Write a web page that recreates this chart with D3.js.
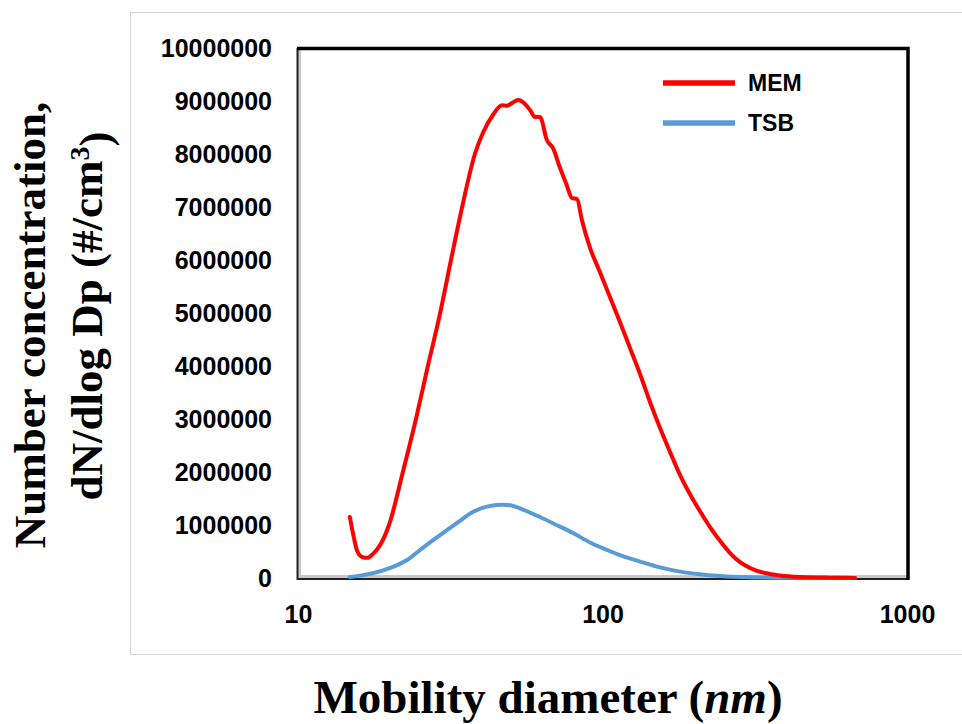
<!DOCTYPE html>
<html>
<head>
<meta charset="utf-8">
<script src="https://cdn.jsdelivr.net/npm/d3@7"></script>
<style>
  body { margin: 0; background: #fff; }
  svg { display: block; }
</style>
</head>
<body>
<script>
var width = 962,
    height = 724;

// mobility diameter (nm) and dN/dlogDp (#/cm3)
var memDiameter = [14.8, 15.2, 15.6, 16.2, 16.9, 17.6, 18.6, 19.9, 22.1, 24.4, 26.7, 29.3, 31.8, 34.6, 38.1, 40.5, 43.7, 46.8, 48.6, 50.4, 52.8, 54.8, 57.8, 60.0, 62.3, 65.7, 68.8, 72.5, 75.9, 79.4, 82.5, 85.6, 91.0, 98.1, 105.8, 114.1, 123.1, 132.8, 143.2, 154.5, 166.6, 179.8, 193.8, 209.0, 225.4, 243.2, 262.3, 282.9, 305.1, 341.8, 382.8, 445.4, 558.6, 674.8];
var memValues = [1150000, 810000, 530000, 400000, 380000, 450000, 620000, 1000000, 2000000, 3000000, 4000000, 5000000, 6000000, 7000000, 8000000, 8400000, 8740000, 8920000, 8910000, 8960000, 9020000, 8980000, 8830000, 8700000, 8700000, 8260000, 8110000, 7740000, 7450000, 7170000, 7150000, 6750000, 6230000, 5770000, 5300000, 4830000, 4340000, 3850000, 3320000, 2830000, 2380000, 1940000, 1580000, 1260000, 960000, 700000, 470000, 300000, 190000, 94000, 47000, 19000, 6000, 2000];

var tsbDiameter = [14.8, 16.2, 17.6, 20.1, 22.8, 25.7, 29.3, 33.3, 37.6, 42.7, 47.2, 50.9, 54.8, 62.3, 70.7, 80.0, 91.0, 103.4, 114.1, 132.8, 154.5, 179.8, 209.0, 243.2, 305.1, 445.4, 674.8];
var tsbValues = [20000, 50000, 90000, 190000, 340000, 570000, 810000, 1040000, 1250000, 1360000, 1380000, 1360000, 1290000, 1150000, 1000000, 850000, 670000, 530000, 430000, 310000, 200000, 120000, 70000, 38000, 15000, 5000, 1000];

var seriesNames = ["MEM", "TSB"];
var seriesColors = ["#ff0000", "#5b9bd5"];
var xTicks = [10, 100, 1000];
var yTicks = d3.range(0, 10000001, 1000000);

var plotLeft = 298, plotRight = 907, plotTop = 48, plotBottom = 578;

var svg = d3.select("body").append("svg")
    .attr("width", width)
    .attr("height", height);

// outer chart frame
svg.append("rect")
    .attr("x", 130.5)
    .attr("y", 12.5)
    .attr("width", 900)
    .attr("height", 642)
    .attr("fill", "none")
    .attr("stroke", "#d4d4d4")
    .attr("stroke-width", 1);

var x = d3.scaleLog().domain([10, 1000]).range([plotLeft, plotRight]);
var y = d3.scaleLinear().domain([0, 10000000]).range([plotBottom, plotTop]);

// plot area shading on left / bottom edges
svg.append("rect")
    .attr("x", plotLeft).attr("y", plotTop)
    .attr("width", 3).attr("height", plotBottom - plotTop)
    .attr("fill", "#c8c8c8");
svg.append("rect")
    .attr("x", plotLeft).attr("y", plotBottom - 3)
    .attr("width", plotRight - plotLeft).attr("height", 3)
    .attr("fill", "#c8c8c8");

var xAxis = svg.append("g")
    .attr("transform", "translate(0," + plotBottom + ")")
    .call(d3.axisBottom(x).tickValues(xTicks).tickSize(0).tickPadding(27).tickFormat(d3.format("d")));

var yAxis = svg.append("g")
    .attr("transform", "translate(" + plotLeft + ",0)")
    .call(d3.axisLeft(y).tickValues(yTicks).tickSize(0).tickPadding(26).tickFormat(d3.format("d")));

[xAxis, yAxis].forEach(function (ax) {
    ax.select(".domain").remove();
    ax.selectAll("text")
        .style("font-family", "'Liberation Sans', Arial, sans-serif")
        .style("font-weight", "bold")
        .style("font-size", "25px")
        .attr("fill", "#000");
});

// dark edges of the plot area
svg.append("line")
    .attr("x1", plotLeft - 0.5).attr("x2", plotLeft - 0.5)
    .attr("y1", plotTop).attr("y2", plotBottom + 2)
    .attr("stroke", "#222").attr("stroke-width", 2);
svg.append("line")
    .attr("x1", plotLeft - 1).attr("x2", plotRight)
    .attr("y1", plotBottom + 1).attr("y2", plotBottom + 1)
    .attr("stroke", "#222").attr("stroke-width", 2);

var line = d3.line()
    .curve(d3.curveMonotoneX)
    .x(function (d) { return x(d[0]); })
    .y(function (d) { return y(d[1]); });

var series = [
    d3.zip(memDiameter, memValues),
    d3.zip(tsbDiameter, tsbValues)
];

// blue first, red on top
[1, 0].forEach(function (i) {
    svg.append("path")
        .datum(series[i])
        .attr("fill", "none")
        .attr("stroke", seriesColors[i])
        .attr("stroke-width", 4)
        .attr("stroke-linejoin", "round")
        .attr("stroke-linecap", "round")
        .attr("d", line);
});

// thick top and right borders
svg.append("path")
    .attr("d", "M" + (plotLeft - 1) + "," + (plotTop + 0.5) + "H" + (plotRight + 1) + "V" + (plotBottom + 2))
    .attr("fill", "none")
    .attr("stroke", "#000")
    .attr("stroke-width", 3.5);

// legend
var legend = svg.selectAll(".legend")
    .data(seriesNames)
    .enter().append("g")
    .attr("class", "legend")
    .attr("transform", function (d, i) { return "translate(663," + (83 + i * 40) + ")"; });

legend.append("line")
    .attr("x1", 0).attr("x2", 72)
    .attr("stroke", function (d, i) { return seriesColors[i]; })
    .attr("stroke-width", 5.5);

legend.append("text")
    .attr("x", 85)
    .attr("dy", "0.36em")
    .style("font-family", "'Liberation Sans', Arial, sans-serif")
    .style("font-weight", "bold")
    .style("font-size", "23px")
    .text(function (d) { return d; });

// axis titles
var titleFont = "'Liberation Serif', 'Times New Roman', serif";

var yTitle = svg.append("g")
    .style("font-family", titleFont)
    .style("font-weight", "bold")
    .style("font-size", "45px")
    .attr("text-anchor", "middle");

yTitle.append("text")
    .attr("transform", "translate(45,325) rotate(-90)")
    .text("Number concentration,");

var y2 = yTitle.append("text")
    .attr("transform", "translate(102,316) rotate(-90)");
y2.append("tspan").text("dN/dlog Dp (#/cm");
y2.append("tspan").attr("dy", "-0.45em").style("font-size", "28px").text("3");
y2.append("tspan").attr("dy", "0.45em").text(")");

var xTitle = svg.append("text")
    .attr("x", 548)
    .attr("y", 713)
    .attr("text-anchor", "middle")
    .style("font-family", titleFont)
    .style("font-weight", "bold")
    .style("font-size", "47px");
xTitle.append("tspan").text("Mobility diameter (");
xTitle.append("tspan").style("font-style", "italic").text("nm");
xTitle.append("tspan").text(")");
</script>
</body>
</html>
